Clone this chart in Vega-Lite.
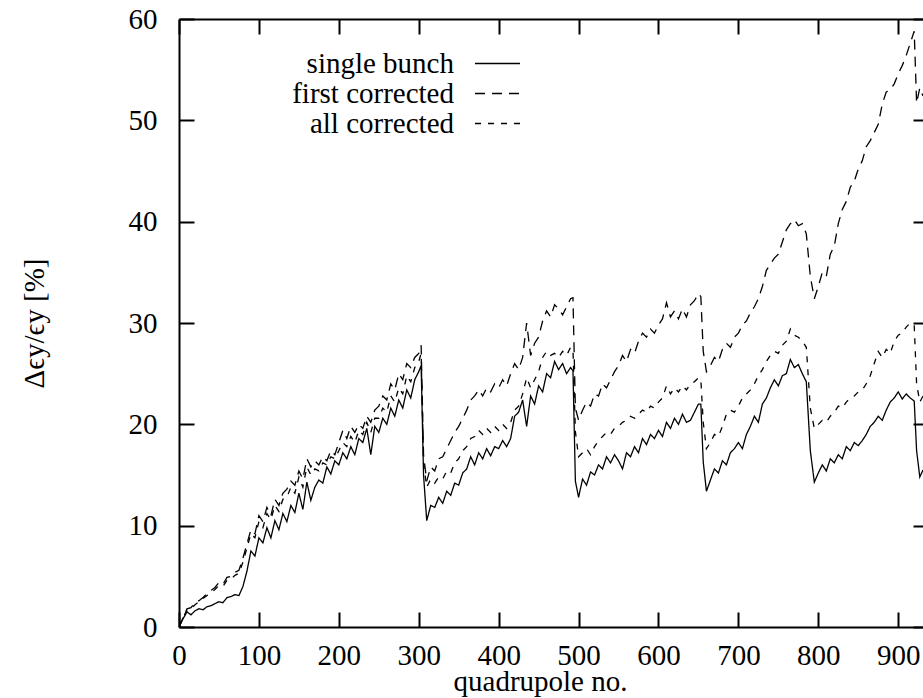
{
  "$schema": "https://vega.github.io/schema/vega-lite/v6.json",
  "width": 744,
  "height": 608,
  "autosize": {"type": "none"},
  "padding": {"left": 179, "top": 19, "right": 0, "bottom": 71},
  "background": "white",
  "config": {"view": {"stroke": null}, "font": "Liberation Serif",
    "axis": {"labelFont": "Liberation Serif", "titleFont": "Liberation Serif"},
    "legend": {"labelFont": "Liberation Serif"}},
  "data": {"values": [
    {"q":0,"a":0,"b":0,"c":0},{"q":5,"a":0.8,"b":0.9,"c":0.9},{"q":10,"a":1.5,"b":1.8,"c":1.7},{"q":15,"a":1.2,"b":1.9,"c":1.8},
    {"q":20,"a":1.6,"b":2.4,"c":2.2},{"q":25,"a":1.8,"b":2.6,"c":2.5},{"q":30,"a":1.7,"b":2.9,"c":2.8},{"q":35,"a":2.0,"b":3.3,"c":3.1},
    {"q":40,"a":2.1,"b":3.6,"c":3.4},{"q":45,"a":2.3,"b":3.9,"c":3.7},{"q":50,"a":2.5,"b":4.4,"c":4.1},{"q":55,"a":2.4,"b":4.2,"c":4.0},
    {"q":60,"a":2.9,"b":4.9,"c":4.6},{"q":65,"a":3.0,"b":5.0,"c":4.7},{"q":70,"a":3.2,"b":5.4,"c":5.1},{"q":75,"a":3.1,"b":5.6,"c":5.3},
    {"q":80,"a":4.0,"b":6.8,"c":6.4},{"q":85,"a":5.5,"b":8.2,"c":7.8},{"q":90,"a":7.5,"b":9.6,"c":9.2},{"q":95,"a":7.0,"b":9.2,"c":8.8},
    {"q":100,"a":8.8,"b":11.0,"c":10.4},{"q":105,"a":8.3,"b":10.4,"c":9.8},{"q":110,"a":9.8,"b":11.8,"c":11.2},{"q":115,"a":8.8,"b":11.0,"c":10.6},
    {"q":120,"a":10.5,"b":12.6,"c":12.0},{"q":125,"a":9.6,"b":12.0,"c":11.4},{"q":130,"a":11.2,"b":13.2,"c":12.6},{"q":135,"a":10.4,"b":13.6,"c":12.8},
    {"q":140,"a":12.0,"b":14.4,"c":13.8},{"q":145,"a":11.3,"b":14.0,"c":13.2},{"q":150,"a":13.2,"b":15.4,"c":14.8},{"q":155,"a":11.6,"b":14.6,"c":13.8},
    {"q":160,"a":14.3,"b":16.6,"c":15.8},{"q":165,"a":12.5,"b":15.8,"c":15.0},{"q":170,"a":13.8,"b":16.4,"c":15.6},{"q":175,"a":14.5,"b":16.0,"c":15.4},
    {"q":180,"a":14.2,"b":16.8,"c":16.2},{"q":185,"a":15.8,"b":16.4,"c":16.0},{"q":190,"a":15.1,"b":17.4,"c":16.8},{"q":195,"a":16.4,"b":17.0,"c":16.6},
    {"q":200,"a":16.0,"b":18.2,"c":17.4},{"q":205,"a":17.2,"b":19.4,"c":18.2},{"q":210,"a":16.6,"b":18.6,"c":17.8},{"q":215,"a":17.8,"b":19.8,"c":18.8},
    {"q":220,"a":17.0,"b":19.2,"c":18.2},{"q":225,"a":18.6,"b":20.0,"c":19.4},{"q":230,"a":18.2,"b":19.6,"c":19.0},{"q":235,"a":19.6,"b":20.8,"c":20.2},
    {"q":240,"a":17.0,"b":20.2,"c":19.2},{"q":245,"a":19.8,"b":21.4,"c":20.6},{"q":250,"a":19.2,"b":21.8,"c":20.6},{"q":255,"a":20.6,"b":22.8,"c":21.6},
    {"q":260,"a":20.0,"b":22.4,"c":21.2},{"q":265,"a":21.6,"b":24.0,"c":22.8},{"q":270,"a":20.8,"b":23.4,"c":22.2},{"q":275,"a":22.4,"b":25.0,"c":23.6},
    {"q":280,"a":21.6,"b":24.4,"c":23.0},{"q":285,"a":23.4,"b":26.0,"c":24.8},{"q":290,"a":22.6,"b":25.6,"c":24.2},{"q":295,"a":24.4,"b":26.6,"c":25.6},
    {"q":300,"a":25.2,"b":27.0,"c":26.2},{"q":303,"a":25.8,"b":27.8,"c":27.0},{"q":306,"a":15.0,"b":17.0,"c":16.2},{"q":310,"a":10.5,"b":14.4,"c":13.8},
    {"q":315,"a":12.0,"b":15.8,"c":14.6},{"q":320,"a":11.8,"b":15.4,"c":14.2},{"q":325,"a":12.8,"b":16.6,"c":14.8},{"q":330,"a":12.2,"b":16.8,"c":14.6},
    {"q":335,"a":13.4,"b":17.6,"c":15.4},{"q":340,"a":13.0,"b":18.4,"c":15.2},{"q":345,"a":14.2,"b":19.2,"c":16.2},{"q":350,"a":14.0,"b":19.8,"c":16.6},
    {"q":355,"a":15.2,"b":20.6,"c":17.4},{"q":360,"a":15.6,"b":21.4,"c":17.8},{"q":365,"a":16.8,"b":22.4,"c":18.6},{"q":370,"a":16.0,"b":22.8,"c":18.8},
    {"q":375,"a":17.2,"b":23.4,"c":19.4},{"q":380,"a":16.6,"b":22.8,"c":19.0},{"q":385,"a":17.6,"b":23.6,"c":19.6},{"q":390,"a":16.9,"b":23.2,"c":19.2},
    {"q":395,"a":17.8,"b":24.0,"c":19.8},{"q":400,"a":17.6,"b":23.6,"c":19.4},{"q":405,"a":18.4,"b":24.4,"c":20.0},{"q":410,"a":17.8,"b":23.8,"c":19.6},
    {"q":415,"a":18.6,"b":25.0,"c":20.2},{"q":420,"a":20.8,"b":26.0,"c":21.4},{"q":425,"a":21.2,"b":25.4,"c":21.8},{"q":430,"a":22.4,"b":26.6,"c":23.0},
    {"q":435,"a":19.8,"b":30.0,"c":24.6},{"q":440,"a":22.8,"b":26.8,"c":23.6},{"q":445,"a":22.0,"b":28.0,"c":24.4},{"q":450,"a":23.8,"b":28.6,"c":25.2},
    {"q":455,"a":23.2,"b":30.2,"c":26.6},{"q":460,"a":25.0,"b":31.2,"c":27.2},{"q":465,"a":24.6,"b":30.6,"c":26.8},{"q":470,"a":26.2,"b":31.8,"c":27.0},
    {"q":475,"a":25.4,"b":31.4,"c":26.6},{"q":480,"a":26.0,"b":30.8,"c":27.2},{"q":485,"a":25.0,"b":31.6,"c":26.8},{"q":490,"a":25.6,"b":32.4,"c":27.6},
    {"q":493,"a":25.3,"b":32.5,"c":27.4},{"q":496,"a":14.4,"b":21.6,"c":19.3},{"q":500,"a":12.8,"b":20.4,"c":16.8},{"q":505,"a":14.6,"b":21.4,"c":17.2},
    {"q":510,"a":14.0,"b":22.2,"c":17.6},{"q":515,"a":15.3,"b":21.8,"c":17.0},{"q":520,"a":15.0,"b":23.0,"c":17.8},{"q":525,"a":16.0,"b":22.8,"c":18.4},
    {"q":530,"a":15.6,"b":24.0,"c":18.8},{"q":535,"a":16.8,"b":23.6,"c":19.2},{"q":540,"a":16.2,"b":24.4,"c":19.0},{"q":545,"a":17.0,"b":25.2,"c":19.6},
    {"q":550,"a":16.4,"b":25.8,"c":19.8},{"q":555,"a":15.6,"b":26.8,"c":20.2},{"q":560,"a":17.2,"b":26.2,"c":20.4},{"q":565,"a":16.8,"b":27.4,"c":20.8},
    {"q":570,"a":17.8,"b":27.0,"c":20.6},{"q":575,"a":17.2,"b":28.2,"c":21.0},{"q":580,"a":18.6,"b":29.0,"c":21.4},{"q":585,"a":18.0,"b":28.6,"c":21.2},
    {"q":590,"a":19.0,"b":29.4,"c":21.8},{"q":595,"a":18.6,"b":29.0,"c":21.6},{"q":600,"a":19.4,"b":29.8,"c":22.2},{"q":605,"a":18.8,"b":30.4,"c":22.6},
    {"q":610,"a":20.2,"b":32.0,"c":23.8},{"q":615,"a":19.6,"b":30.6,"c":23.0},{"q":620,"a":20.6,"b":31.2,"c":23.6},{"q":625,"a":20.0,"b":30.4,"c":23.2},
    {"q":630,"a":21.0,"b":31.4,"c":23.8},{"q":635,"a":20.2,"b":30.6,"c":23.4},{"q":640,"a":20.4,"b":31.8,"c":24.0},{"q":645,"a":21.2,"b":32.2,"c":24.2},
    {"q":650,"a":22.0,"b":32.9,"c":24.6},{"q":653,"a":22.0,"b":32.6,"c":24.4},{"q":656,"a":16.3,"b":27.2,"c":20.2},{"q":660,"a":13.4,"b":25.2,"c":17.6},
    {"q":665,"a":14.5,"b":25.8,"c":18.2},{"q":670,"a":15.6,"b":26.6,"c":19.0},{"q":675,"a":15.2,"b":26.2,"c":18.8},{"q":680,"a":16.4,"b":27.4,"c":19.8},
    {"q":685,"a":16.0,"b":28.0,"c":21.0},{"q":690,"a":17.2,"b":27.6,"c":21.4},{"q":695,"a":17.6,"b":28.6,"c":21.2},{"q":700,"a":18.2,"b":29.0,"c":21.8},
    {"q":705,"a":17.6,"b":29.8,"c":22.6},{"q":710,"a":19.0,"b":30.2,"c":23.0},{"q":715,"a":19.8,"b":31.0,"c":23.4},{"q":720,"a":20.8,"b":31.6,"c":24.0},
    {"q":725,"a":20.2,"b":32.4,"c":24.8},{"q":730,"a":22.0,"b":33.6,"c":25.4},{"q":735,"a":22.6,"b":35.2,"c":26.2},{"q":740,"a":23.6,"b":35.8,"c":26.8},
    {"q":745,"a":24.4,"b":36.4,"c":27.2},{"q":750,"a":23.8,"b":36.8,"c":27.0},{"q":755,"a":24.8,"b":38.0,"c":27.8},{"q":760,"a":25.0,"b":39.2,"c":28.2},
    {"q":765,"a":26.4,"b":39.8,"c":29.4},{"q":770,"a":25.6,"b":40.2,"c":28.8},{"q":775,"a":25.9,"b":39.6,"c":28.6},{"q":780,"a":25.0,"b":39.8,"c":28.2},
    {"q":785,"a":24.2,"b":38.8,"c":27.6},{"q":790,"a":17.4,"b":34.6,"c":21.6},{"q":795,"a":14.3,"b":32.4,"c":19.6},{"q":800,"a":15.2,"b":33.6,"c":20.0},
    {"q":805,"a":16.0,"b":35.0,"c":20.4},{"q":810,"a":15.4,"b":34.6,"c":20.2},{"q":815,"a":16.6,"b":36.8,"c":20.8},{"q":820,"a":16.2,"b":37.6,"c":21.2},
    {"q":825,"a":17.0,"b":39.8,"c":21.8},{"q":830,"a":16.6,"b":41.2,"c":21.6},{"q":835,"a":17.8,"b":42.0,"c":22.2},{"q":840,"a":17.4,"b":43.4,"c":22.6},
    {"q":845,"a":18.2,"b":44.0,"c":22.8},{"q":850,"a":17.9,"b":45.2,"c":23.2},{"q":855,"a":18.4,"b":46.0,"c":23.4},{"q":860,"a":19.0,"b":47.4,"c":24.0},
    {"q":865,"a":19.8,"b":48.0,"c":24.8},{"q":870,"a":20.2,"b":48.8,"c":26.0},{"q":875,"a":20.8,"b":49.6,"c":27.2},{"q":880,"a":20.4,"b":51.6,"c":26.6},
    {"q":885,"a":21.4,"b":52.8,"c":27.4},{"q":890,"a":22.2,"b":53.0,"c":27.0},{"q":895,"a":22.6,"b":53.6,"c":28.2},{"q":900,"a":23.2,"b":54.6,"c":28.8},
    {"q":905,"a":22.5,"b":55.4,"c":29.0},{"q":910,"a":23.0,"b":56.4,"c":29.6},{"q":915,"a":22.6,"b":57.6,"c":30.0},{"q":920,"a":22.3,"b":58.8,"c":29.8},
    {"q":923,"a":17.4,"b":51.7,"c":24.0},{"q":927,"a":14.8,"b":53.2,"c":22.2},{"q":931,"a":15.5,"b":52.4,"c":22.8}
  ]},
  "transform": [{"fold": ["a", "b", "c"], "as": ["s", "v"]}],
  "resolve": {"axis": {"x": "independent", "y": "independent"}},
  "layer": [
    {
      "mark": {"type": "line", "color": "black", "strokeWidth": 1.3, "clip": true},
      "encoding": {
        "x": {"field": "q", "type": "quantitative",
          "scale": {"domain": [0, 931], "nice": false, "zero": false},
          "axis": {"orient": "bottom", "values": [0,100,200,300,400,500,600,700,800,900],
            "tickSize": -15, "tickWidth": 2, "tickColor": "black", "domainWidth": 2, "domainColor": "black",
            "labelFont": "Liberation Serif", "labelFontSize": 29, "labelColor": "black", "labelPadding": 29,
            "labelFlush": false, "labelOverlap": false, "labelBound": false, "grid": false,
            "title": "quadrupole no.", "titleFont": "Liberation Serif", "titleFontSize": 29, "titleFontWeight": "normal",
            "titleColor": "black", "titleX": 361, "titleY": 63, "titleBaseline": "alphabetic", "titleAlign": "center", "titleAnchor": null}},
        "y": {"field": "v", "type": "quantitative",
          "scale": {"domain": [0, 60], "nice": false, "zero": false},
          "axis": {"orient": "left", "values": [0,10,20,30,40,50,60],
            "tickSize": -15, "tickWidth": 2, "tickColor": "black", "domainWidth": 2, "domainColor": "black",
            "labelFont": "Liberation Serif", "labelFontSize": 29, "labelColor": "black", "labelPadding": 37,
            "labelFlush": false, "labelOverlap": false, "labelBound": false, "grid": false,
            "title": "Δϵy/ϵy [%]", "titleFont": "Liberation Serif", "titleFontSize": 29, "titleFontWeight": "normal",
            "titleColor": "black", "titleX": -136, "titleY": 304, "titleAngle": -90, "titleBaseline": "alphabetic", "titleAlign": "center", "titleAnchor": null}},
        "strokeDash": {"field": "s", "type": "nominal",
          "scale": {"domain": ["a", "b", "c"], "range": [[1, 0], [10, 7], [6, 7]]},
          "legend": {"orient": "none", "legendX": 304, "legendY": 30, "title": null, "padding": 0,
            "symbolType": "M-3,0H3", "symbolSize": 225, "symbolStrokeWidth": 1.3, "symbolStrokeColor": "black", "symbolFillColor": "transparent",
            "labelFont": "Liberation Serif", "labelFontSize": 29, "labelColor": "black", "labelAlign": "right",
            "labelOffset": -58, "labelLimit": 400, "rowPadding": 0,
            "labelExpr": "datum.label == 'a' ? 'single bunch' : datum.label == 'b' ? 'first corrected' : 'all corrected'"}}
      }
    },
    {
      "mark": {"type": "point", "opacity": 0, "size": 1},
      "encoding": {
        "x": {"field": "q", "type": "quantitative",
          "axis": {"orient": "top", "values": [0,100,200,300,400,500,600,700,800,900], "labels": false,
            "tickSize": -15, "tickWidth": 2, "tickColor": "black", "domainWidth": 2, "domainColor": "black", "grid": false, "title": null}},
        "y": {"field": "v", "type": "quantitative",
          "axis": {"orient": "right", "values": [0,10,20,30,40,50,60], "labels": false, "domain": false,
            "tickSize": -10, "tickWidth": 2, "tickColor": "black", "grid": false, "title": null}}
      }
    }
  ]
}
